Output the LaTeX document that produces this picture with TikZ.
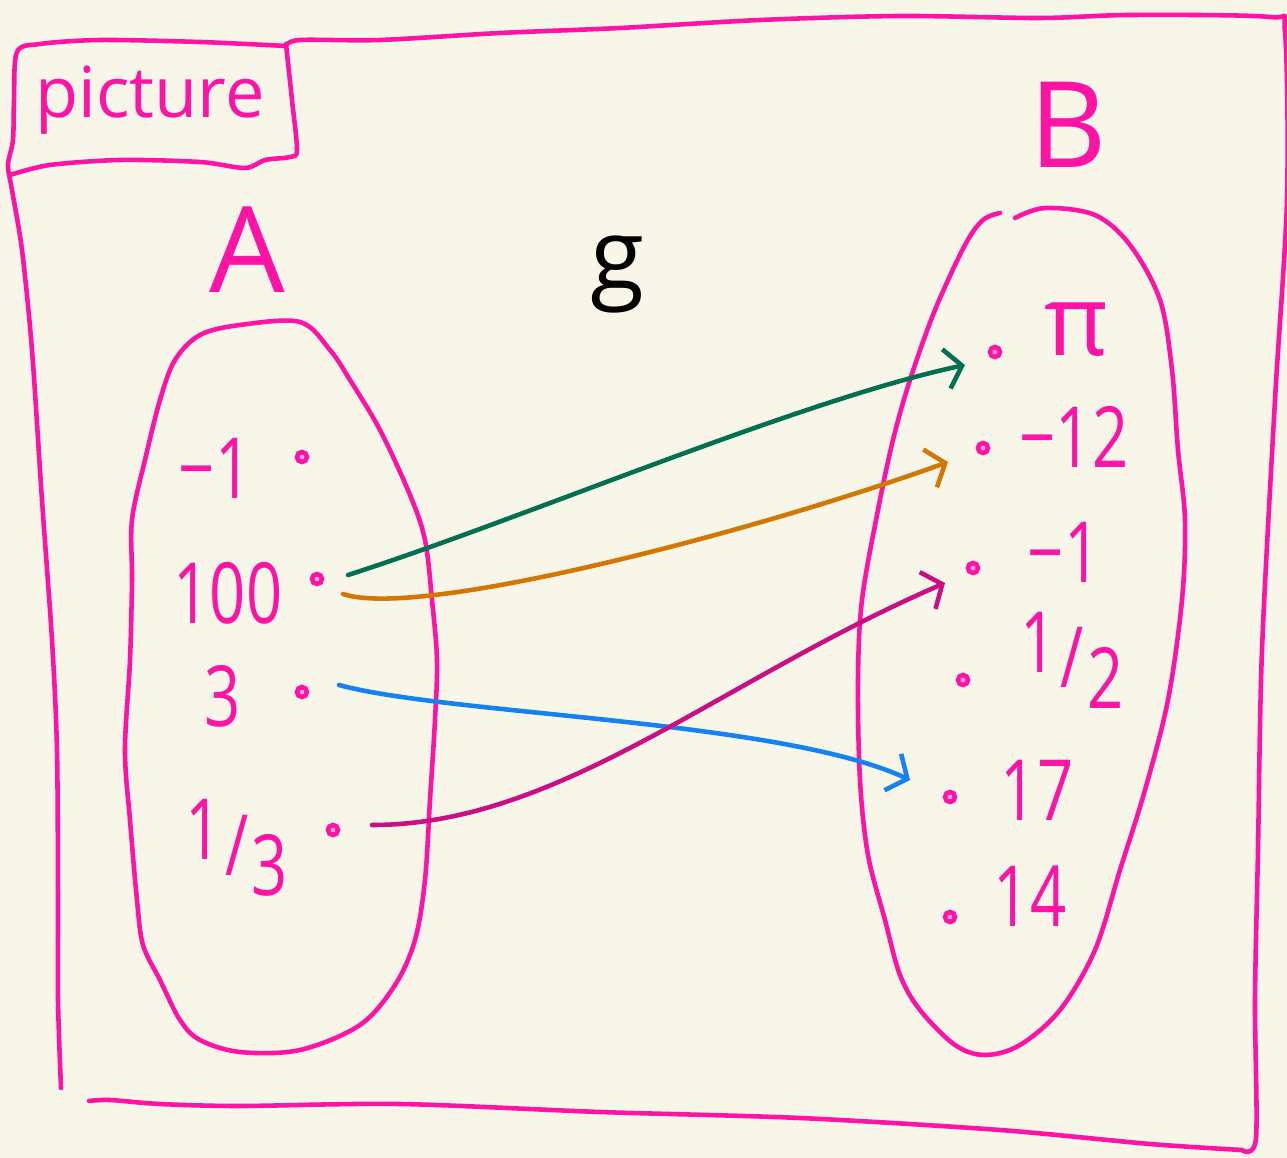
\documentclass[tikz,border=0pt]{standalone}
\usepackage{fontspec}
\setmainfont{Open Sans}
\newfontfamily\handnum{Open Sans}[FakeStretch=0.75]
\usetikzlibrary{arrows.meta, calc}
\definecolor{PaperCream}{HTML}{F8F5E9}
\definecolor{PenPink}{HTML}{FF14A5}
\definecolor{PenMagenta}{HTML}{C81082}
\definecolor{PenGreen}{HTML}{007050}
\definecolor{PenOrange}{HTML}{D27800}
\definecolor{PenBlue}{HTML}{1482F0}
\newcommand\slashfrac[2]{\raisebox{0.35ex}{#1}\kern0.04em/\kern0.04em\raisebox{-0.45ex}{#2}}
\tikzset{
    pen/.style={
        draw=PenPink,
        line width=1.3pt,
        line cap=round,
        line join=round
    },
    setname/.style={
        text=PenPink,
        font=\fontsize{34}{40}\selectfont,
        inner sep=0pt
    },
    element/.style={
        text=PenPink,
        font=\handnum\fontsize{24}{28}\selectfont,
        inner sep=0pt
    },
    dot/.style={
        circle,
        draw=PenPink,
        fill=PenPink!40,
        line width=1.3pt,
        inner sep=0pt,
        minimum size=0.1cm
    },
    maparrow/.style={
        draw=#1,
        line width=1.3pt,
        line cap=round,
        -{Straight Barb[length=1.6mm,width=4mm]}
    },
    maparrow/.default=PenGreen
}
\begin{document}
\begin{tikzpicture}[x=0.01cm, y=-0.01cm]
    % Paper
    \fill[PaperCream] (0,0) rectangle (1287,1158);
    \useasboundingbox (0,0) rectangle (1287,1158);

    % Outer frame
    \draw[pen] plot[smooth, tension=0.5] coordinates {(286,46) (300,40) (380,40) (500,33) (620,28) (760,20) (900,16) (1040,18) (1130,15) (1270,17) (1285,32) (1287,200) (1275,400) (1262,650) (1258,850) (1255,1000) (1256,1138) (1242,1150)};
    \draw[pen] plot[smooth, tension=0.5] coordinates {(1242,1150) (1150,1144) (1000,1130) (800,1118) (600,1112) (400,1104) (240,1106) (160,1104) (110,1100) (89,1101)};
    \draw[pen] plot[smooth, tension=0.5] coordinates {(286,46) (200,42) (100,40) (40,44) (17,52) (14,100) (13,140) (8,165) (12,190) (22,250) (32,350) (42,500) (52,640) (57,750) (58,900) (58,1000) (61,1088)};

    % Label box
    \draw[pen] plot[smooth, tension=0.5] coordinates {(286,44) (292,100) (297,150) (290,157) (265,160) (245,168) (200,162) (120,160) (50,165) (10,175)};
    \node[setname, font=\fontsize{20}{24}\selectfont] (title) at (150,100) {picture};

    % Set names and map name
    \node[setname] (nameA) at (247,250) {A};
    \node[setname] (nameB) at (1068,125) {B};
    \node[anchor=base, inner sep=0pt, font=\fontsize{28}{32}\selectfont] (mapg) at (617,290) {g};

    % Set A
    \draw[pen] plot[smooth cycle, tension=0.55] coordinates {(240,325) (300,322) (330,350) (350,380) (380,430) (410,495) (425,540) (432,600) (437,660) (435,720) (430,800) (425,880) (415,940) (395,985) (360,1025) (300,1050) (240,1052) (200,1040) (180,1020) (160,980) (143,945) (137,900) (130,820) (125,750) (130,660) (132,580) (132,520) (145,460) (160,400) (175,360) (200,335)};
    \node[element] (aminusone) at (215,468) {−1};
    \node[element] (ahundred) at (228,593) {100};
    \node[element] (athree) at (223,696) {3};
    \node[element] (athird) at (237,848) {\slashfrac{1}{3}};
    \node[dot] (dminusone) at (302,457) {};
    \node[dot] (dhundred) at (317,579) {};
    \node[dot] (dthree) at (302,692) {};
    \node[dot] (dthird) at (333,830) {};

    % Set B
    \draw[pen] plot[smooth, tension=0.55] coordinates {(1015,218) (1045,208) (1095,215) (1130,245) (1160,300) (1172,370) (1178,450) (1185,520) (1182,600) (1168,700) (1145,790) (1120,870) (1095,950) (1060,1010) (1020,1045) (985,1055) (955,1045) (920,1010) (900,975) (885,920) (868,855) (860,780) (858,680) (862,600) (878,510) (893,440) (910,380) (935,310) (965,245) (983,220) (1000,213)};
    \node[element, font=\fontsize{28}{32}\selectfont] (bpi) at (1076,330) {π};
    \node[element] (bminustwelve) at (1074,437) {−12};
    \node[element] (bminusone) at (1064,552) {−1};
    \node[element] (bhalf) at (1072,660) {\slashfrac{1}{2}};
    \node[element] (bseventeen) at (1037,790) {17};
    \node[element] (bfourteen) at (1030,896) {14};
    \node[dot] (dpi) at (995,352) {};
    \node[dot] (dminustwelve) at (983,448) {};
    \node[dot] (dbminusone) at (973,568) {};
    \node[dot] (dhalf) at (963,680) {};
    \node[dot] (dseventeen) at (950,797) {};
    \node[dot] (dfourteen) at (950,917) {};

    % Mapping arrows
    \draw[maparrow=PenGreen] ($(dhundred)+(31,-4)$) .. controls (520,520) and (800,400) .. ($(dpi)+(-30,13)$);
    \draw[maparrow=PenOrange] ($(dhundred)+(26,15)$) .. controls (420,620) and (760,530) .. ($(dminustwelve)+(-35,14)$);
    \draw[maparrow=PenBlue] ($(dthree)+(37,-7)$) .. controls (450,715) and (780,720) .. ($(dseventeen)+(-40,-17)$);
    \draw[maparrow=PenMagenta] ($(dthird)+(39,-5)$) .. controls (560,825) and (720,680) .. ($(dbminusone)+(-28,15)$);
\end{tikzpicture}
\end{document}
